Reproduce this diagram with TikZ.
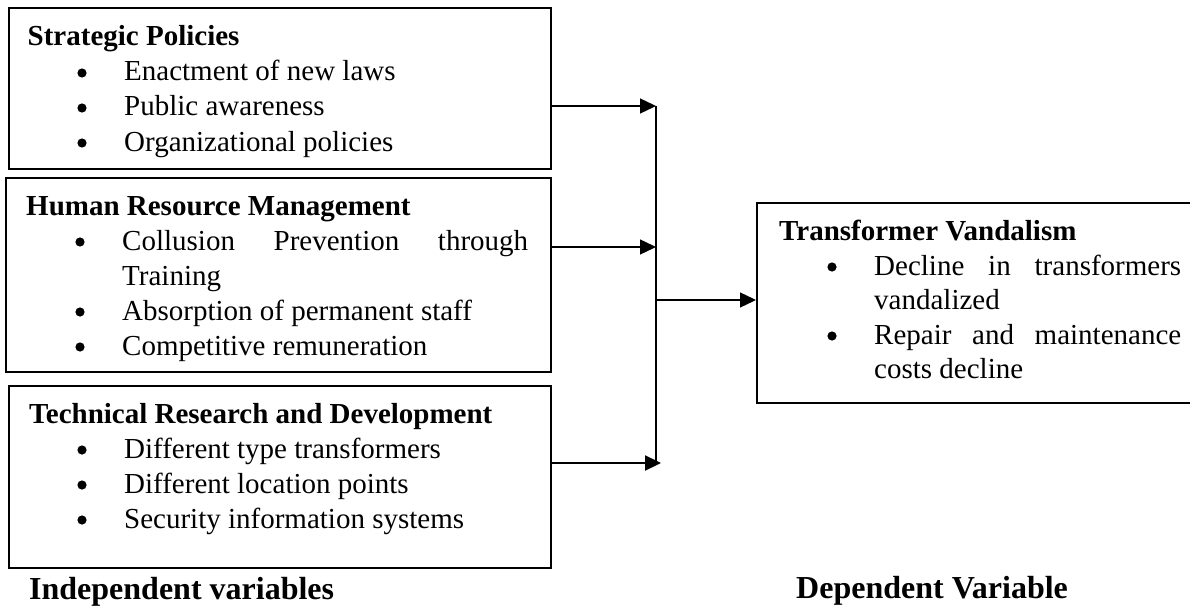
\documentclass[tikz,border=0pt]{standalone}
\usepackage{fontspec}
\setmainfont{Liberation Serif}
\usetikzlibrary{arrows.meta}
\tikzset{
  box/.style={draw=black, line width=2pt, rectangle, inner sep=0pt, anchor=north west},
  txt/.style={anchor=base west, inner sep=0pt, font=\fontsize{29}{35}\selectfont},
  hd/.style={anchor=base west, inner sep=0pt, font=\fontsize{29}{35}\selectfont\bfseries},
  lab/.style={anchor=base west, inner sep=0pt, font=\fontsize{32}{38}\selectfont\bfseries},
  conn/.style={draw=black, line width=1.4pt, -{Triangle[length=16pt,width=15pt]}},
  connthick/.style={draw=black, line width=2.2pt, -{Triangle[length=16pt,width=15pt]}},
  trunk/.style={draw=black, line width=1.5pt},
  dot/.style={fill=black}
}
\begin{document}
\begin{tikzpicture}[x=1pt,y=-1pt]
\useasboundingbox[fill=white] (0,0) rectangle (1190,607);
% boxes
\node[box, minimum width=542.5pt, minimum height=160pt] (b1) at (7.5,7.5) {};
\node[box, minimum width=545pt, minimum height=194pt] (b2) at (5,177) {};
\node[box, minimum width=542.5pt, minimum height=182pt] (b3) at (7.5,385) {};
\node[box, minimum width=440pt, minimum height=200pt] (dv) at (756,202) {};
% box 1
\node[hd] (h1) at (27.5,46) {Strategic Policies};
\node[txt] (t11) at (124,81) {Enactment of new laws};
\node[txt] (t12) at (124,116) {Public awareness};
\node[txt] (t13) at (124,151) {Organizational policies};
\fill[dot] (82,73) circle (4.6pt);
\fill[dot] (82,108) circle (4.6pt);
\fill[dot] (82,143) circle (4.6pt);
% box 2
\node[hd] (h2) at (26,215) {Human Resource Management};
\node[txt] (t21) at (122,250) {\hbox to 406pt{Collusion\hfill Prevention\hfill through}};
\node[txt] (t22) at (122,285) {Training};
\node[txt] (t23) at (122,320) {Absorption of permanent staff};
\node[txt] (t24) at (122,355) {Competitive remuneration};
\fill[dot] (80,242) circle (4.6pt);
\fill[dot] (80,312) circle (4.6pt);
\fill[dot] (80,347) circle (4.6pt);
% box 3
\node[hd] (h3) at (29,423) {Technical Research and Development};
\node[txt] (t31) at (124,458) {Different type transformers};
\node[txt] (t32) at (124,493) {Different location points};
\node[txt] (t33) at (124,528) {Security information systems};
\fill[dot] (82,450) circle (4.6pt);
\fill[dot] (82,485) circle (4.6pt);
\fill[dot] (82,520) circle (4.6pt);
% dependent box
\node[hd] (h4) at (779,240) {Transformer Vandalism};
\node[txt] (t41) at (874,275) {\hbox to 307pt{Decline\hfill in\hfill transformers}};
\node[txt] (t42) at (874,309) {vandalized};
\node[txt] (t43) at (874,344) {\hbox to 307pt{Repair\hfill and\hfill maintenance}};
\node[txt] (t44) at (874,378) {costs decline};
\fill[dot] (832,267) circle (4.6pt);
\fill[dot] (832,336) circle (4.6pt);
% labels
\node[lab] (iv) at (29,599) {Independent variables};
\node[lab] (dl) at (796,598) {Dependent Variable};
% connectors
\coordinate (jt) at (656,106);
\coordinate (j2) at (656,247);
\coordinate (jb) at (656,463);
\coordinate (j3) at (661,463);
\coordinate (jm) at (656,300);
\draw[trunk] (jt) -- (jb);
\draw[conn] (b1.east |- jt) -- (jt);
\draw[conn] (b2.east |- j2) -- (j2);
\draw[connthick] (b3.east |- j3) -- (j3);
\draw[conn] (jm) -- (dv.west |- jm);
\end{tikzpicture}
\end{document}
